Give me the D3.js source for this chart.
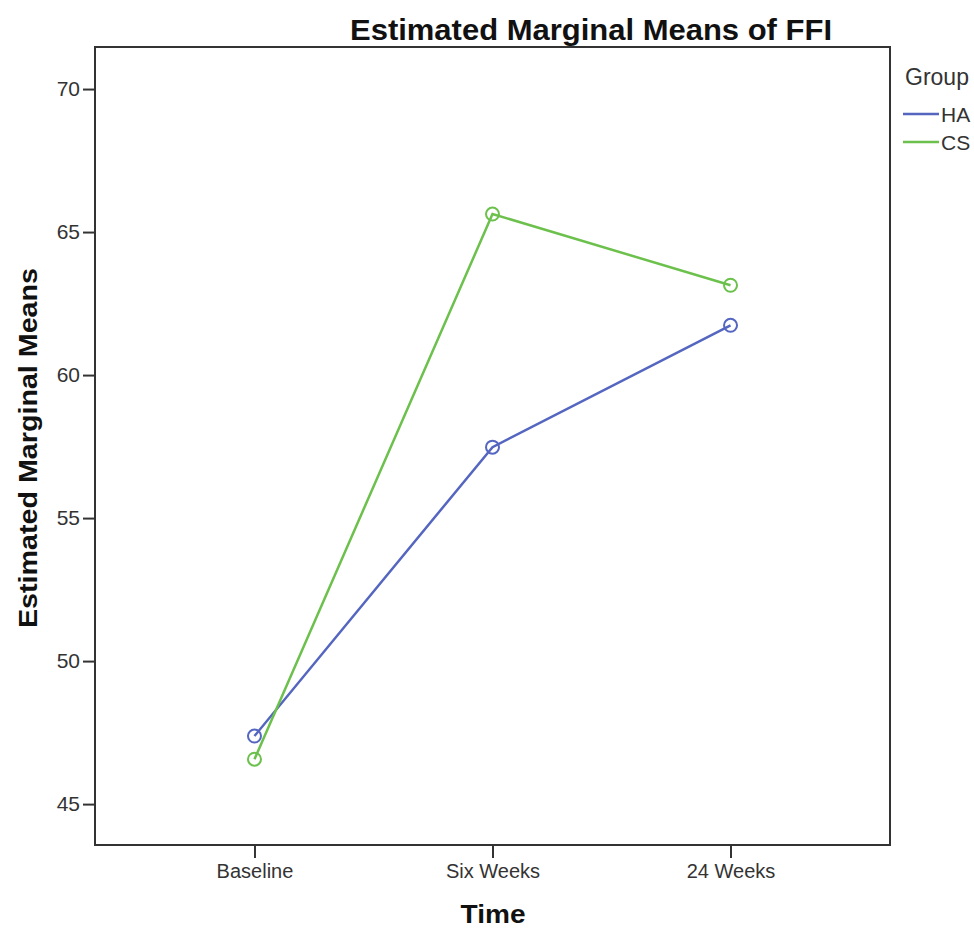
<!DOCTYPE html>
<html><head><meta charset="utf-8">
<script src="https://cdn.jsdelivr.net/npm/d3@7"></script>
<style>body{margin:0;background:#fff;} svg{display:block;}</style>
</head><body>
<svg id="chart" width="974" height="929"></svg>
<script>
const categories = ["Baseline", "Six Weeks", "24 Weeks"];
const seriesNames = ["HA", "CS"];
const haValues = [47.38, 57.48, 61.74];
const csValues = [46.57, 65.63, 63.14];
const yTicks = [45, 50, 55, 60, 65, 70];
const colors = ["#5566c0", "#6cc04c"];

const svg = d3.select("#chart");
const m = {left: 95, right: 890, top: 47, bottom: 845};
const x = d3.scalePoint().domain(categories).range([m.left, m.right]).padding(0.67);
const y = d3.scaleLinear().domain([43.57, 71.47]).range([m.bottom, m.top]);

const font = "Liberation Sans, Arial, sans-serif";
svg.append("rect").attr("x", m.left).attr("y", m.top).attr("width", m.right - m.left).attr("height", m.bottom - m.top)
  .attr("fill", "none").attr("stroke", "#333").attr("stroke-width", 2);

const yAxis = svg.append("g").attr("transform", `translate(${m.left},0)`)
  .call(d3.axisLeft(y).tickValues(yTicks).tickSize(12).tickPadding(3));
yAxis.select(".domain").remove();
yAxis.selectAll("line").attr("stroke", "#333").attr("stroke-width", 2);
yAxis.selectAll("text").attr("font-family", font).attr("font-size", 21).attr("fill", "#333");

const xAxis = svg.append("g").attr("transform", `translate(0,${m.bottom})`)
  .call(d3.axisBottom(x).tickSize(13).tickPadding(6));
xAxis.select(".domain").remove();
xAxis.selectAll("line").attr("stroke", "#333").attr("stroke-width", 2);
xAxis.selectAll("text").attr("font-family", font).attr("font-size", 20).attr("fill", "#333");

const series = [haValues, csValues];
const line = d3.line().x((d, i) => x(categories[i])).y(d => y(d));
series.forEach((vals, s) => {
  svg.append("path").datum(vals).attr("d", line).attr("fill", "none")
    .attr("stroke", colors[s]).attr("stroke-width", 2.5);
  svg.selectAll(null).data(vals).enter().append("circle")
    .attr("cx", (d, i) => x(categories[i])).attr("cy", d => y(d)).attr("r", 6.5)
    .attr("fill", "none").attr("stroke", colors[s]).attr("stroke-width", 2);
});

svg.append("text").attr("x", 591).attr("y", 40).attr("text-anchor", "middle")
  .attr("font-family", font).attr("font-weight", "bold")
  .attr("font-size", 29).attr("fill", "#111")
  .attr("textLength", 482).attr("lengthAdjust", "spacingAndGlyphs")
  .text("Estimated Marginal Means of FFI");

svg.append("text").attr("transform", "translate(37,448) rotate(-90)").attr("text-anchor", "middle")
  .attr("font-family", font).attr("font-weight", "bold").attr("font-size", 25).attr("fill", "#111")
  .attr("textLength", 360).attr("lengthAdjust", "spacingAndGlyphs")
  .text("Estimated Marginal Means");

svg.append("text").attr("x", 493).attr("y", 923).attr("text-anchor", "middle")
  .attr("font-family", font).attr("font-weight", "bold").attr("font-size", 25).attr("fill", "#111")
  .attr("textLength", 65).attr("lengthAdjust", "spacingAndGlyphs").text("Time");

svg.append("text").attr("x", 905).attr("y", 85).attr("font-family", font).attr("font-size", 23).attr("fill", "#333").text("Group");
seriesNames.forEach((n, i) => {
  const yy = 114 + i * 28;
  svg.append("line").attr("x1", 903).attr("x2", 939).attr("y1", yy).attr("y2", yy)
    .attr("stroke", colors[i]).attr("stroke-width", 2.5);
  svg.append("text").attr("x", 941).attr("y", yy + 8).attr("font-family", font).attr("font-size", 21)
    .attr("fill", "#333").text(n);
});
</script>
</body></html>
